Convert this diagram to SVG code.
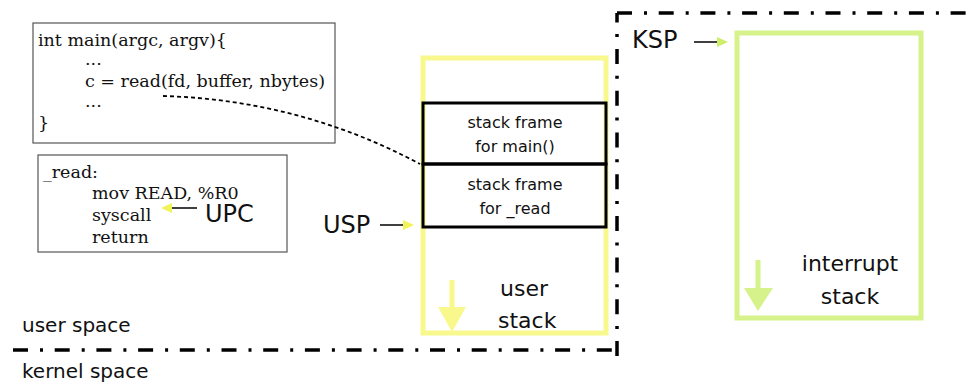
<svg xmlns="http://www.w3.org/2000/svg" width="975" height="387" viewBox="0 0 975 387">
<style>
.code{font-family:"DejaVu Serif","Liberation Serif",serif;font-size:17.5px;fill:#111}
.hand{font-family:"Comic Sans MS","DejaVu Sans",sans-serif;fill:#111}
.box{fill:#fff;stroke:#555;stroke-width:1.2}
.frame{fill:none;stroke:#000;stroke-width:3}
.ystack{fill:none;stroke:#f8f88c;stroke-width:5}
.gstack{fill:none;stroke:#d6f28a;stroke-width:5}
.bound{fill:none;stroke:#000;stroke-width:3.5;stroke-dasharray:15 12 3 11.7}
.ptr{stroke:#000;stroke-width:1.5}
.yhead{fill:#f2f25a}
.ghead{fill:#cdee6a}
</style>

<g id="boundary">
<line class="bound" x1="13" y1="350" x2="617" y2="350"/>
<line class="bound" x1="617" y1="356" x2="617" y2="13"/>
<line class="bound" x1="617" y1="13" x2="975" y2="13"/>
</g>

<g id="main-code">
<rect class="box" x="33" y="23" width="302" height="120"/>
<text class="code" x="38" y="46">int main(argc, argv){</text>
<text class="code" x="85" y="65">...</text>
<text class="code" x="85" y="87">c = read(fd, buffer, nbytes)</text>
<text class="code" x="85" y="107">...</text>
<text class="code" x="38" y="129">}</text>
</g>

<g id="read-code">
<rect class="box" x="38" y="155" width="249" height="97"/>
<text class="code" x="43" y="178">_read:</text>
<text class="code" x="92" y="199">mov READ, %R0</text>
<text class="code" x="92" y="221">syscall</text>
<text class="code" x="92" y="243">return</text>
</g>

<g id="user-stack">
<rect class="ystack" x="423" y="58" width="183" height="275"/>
<line x1="452" y1="280" x2="452" y2="310" stroke="#f8f88c" stroke-width="5"/>
<path d="M438,307 L466,307 L452,332 Z" fill="#f8f88c"/>
<text class="hand" x="500" y="296" font-size="22">user</text>
<text class="hand" x="498" y="328" font-size="22">stack</text>
</g>

<g id="frame-main">
<rect class="frame" x="423" y="103" width="183" height="61"/>
<text class="hand" x="515" y="128" font-size="16" text-anchor="middle">stack frame</text>
<text class="hand" x="515" y="152" font-size="16" text-anchor="middle">for main()</text>
</g>

<g id="frame-read">
<rect class="frame" x="423" y="164" width="183" height="63"/>
<text class="hand" x="515" y="190" font-size="16" text-anchor="middle">stack frame</text>
<text class="hand" x="515" y="214" font-size="16" text-anchor="middle">for _read</text>
</g>

<g id="interrupt-stack">
<rect class="gstack" x="737" y="33" width="184" height="285"/>
<line x1="758" y1="260" x2="758" y2="292" stroke="#d6f28a" stroke-width="5"/>
<path d="M744,288 L773,288 L758,311 Z" fill="#d6f28a"/>
<text class="hand" x="850" y="271" font-size="22" text-anchor="middle">interrupt</text>
<text class="hand" x="850" y="304" font-size="22" text-anchor="middle">stack</text>
</g>

<g id="labels">
<text class="hand" x="22" y="332" font-size="20">user space</text>
<text class="hand" x="22" y="378" font-size="20">kernel space</text>
<text class="hand" x="323" y="233" font-size="24">USP</text>
<text class="hand" x="632" y="48" font-size="24">KSP</text>
<text class="hand" x="205" y="222" font-size="24">UPC</text>
</g>

<g id="connectors">
<path d="M163,96 Q300,100 420,164" fill="none" stroke="#000" stroke-width="1.8" stroke-dasharray="4 3"/>
<line class="ptr" x1="197" y1="208" x2="171" y2="208"/>
<path class="yhead" d="M161,208 L172,203 L172,213 Z"/>
<line class="ptr" x1="380" y1="225" x2="404" y2="225"/>
<path class="yhead" d="M414,225 L403,220 L403,230 Z"/>
<line class="ptr" x1="694" y1="42" x2="718" y2="42"/>
<path class="ghead" d="M728,42 L717,37 L717,47 Z"/>
</g>
</svg>
